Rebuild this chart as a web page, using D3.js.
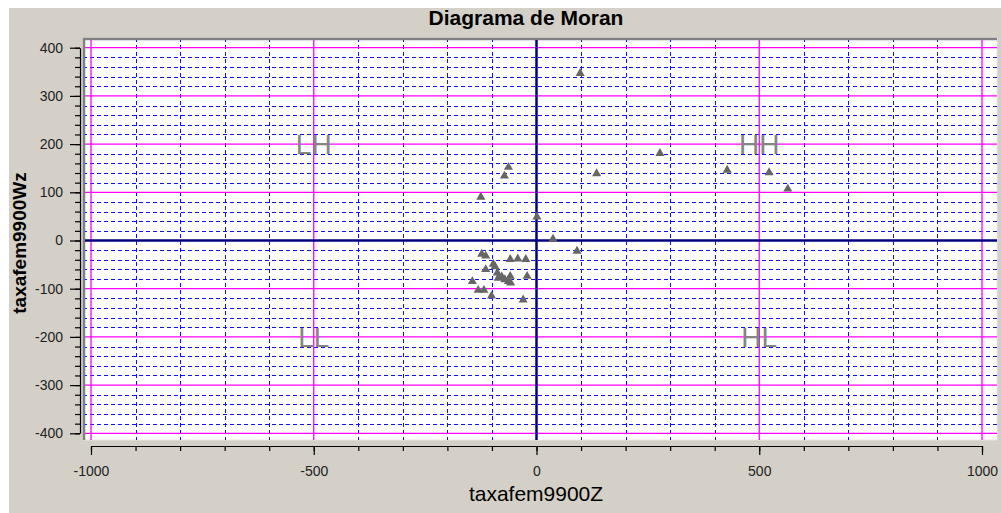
<!DOCTYPE html>
<html>
<head>
<meta charset="utf-8">
<script src="https://cdn.jsdelivr.net/npm/d3@7"></script>
<style>
html,body{margin:0;padding:0;background:#fff;}
svg{display:block;}
</style>
</head>
<body>
<svg id="chart" width="1001" height="513"></svg>
<script>
// ---- data ----
const xValues = [98, 135, -63, -72, 277, 428, 522, 564, -125, 1, 37, 91,
  -123, -114, -59, -42, -24, -97, -93, -114, -88, -78, -86, -71, -59, -63, -58,
  -144, -21, -131, -118, -101, -30];
const yValues = [347, 139, 152, 134, 181, 146, 141, 107, 90, 49, 3, -22,
  -28, -32, -39, -38, -39, -49, -54, -60, -67, -75, -78, -81, -74, -85, -88,
  -85, -74, -103, -103, -115, -123];
const xMajorTicks = [-1000, -500, 0, 500, 1000];
const yMajorTicks = [-400, -300, -200, -100, 0, 100, 200, 300, 400];
const quadrantLabels = ["LH", "HH", "LL", "HL"];
const quadrantX = [-500, 500, -500, 500];
const quadrantY = [200, 200, -200, -200];
const titleText = "Diagrama de Moran";
const xLabel = "taxafem9900Z";
const yLabel = "taxafem9900Wz";

const svg = d3.select("#chart");
const W = 1001, H = 513;
const font = "'Liberation Sans', Arial, sans-serif";

// background
svg.append("rect").attr("x", 0).attr("y", 0).attr("width", W).attr("height", H).attr("fill", "#fff");
svg.append("rect").attr("x", 9).attr("y", 8).attr("width", W - 9).attr("height", H - 8).attr("fill", "#d4d0c8");

const x = d3.scaleLinear().domain([-1000, 1000]).range([91, 982]);
const y = d3.scaleLinear().domain([-400, 400]).range([433.3, 47.7]);

const plot = {l: 83, t: 38, r: 997, b: 440};

// plot frame
svg.append("rect").attr("x", plot.l).attr("y", plot.t).attr("width", plot.r - plot.l).attr("height", plot.b - plot.t)
  .attr("fill", "#fff").attr("stroke", "#e8e6e0").attr("stroke-width", 1);
svg.append("path").attr("d", `M${plot.l + 1},${plot.b}V${plot.t + 1}H${plot.r}`)
  .attr("fill", "none").attr("stroke", "#808080").attr("stroke-width", 2.5);

svg.append("clipPath").attr("id", "clip").append("rect")
  .attr("x", plot.l + 2).attr("y", plot.t + 2).attr("width", plot.r - plot.l - 2).attr("height", plot.b - plot.t - 2);
const g = svg.append("g").attr("clip-path", "url(#clip)");

const xMinor = d3.range(-1000, 1001, 100).filter(v => v % 500 !== 0);
const yMinor = d3.range(-400, 401, 20).filter(v => v % 100 !== 0);
const xMag = xMajorTicks.filter(v => v !== 0);
const yMag = yMajorTicks.filter(v => v !== 0);

const blue = "#1010ff";
// dashed blue grid
g.append("g").selectAll("line").data(yMinor).join("line")
  .attr("x1", plot.l).attr("x2", plot.r).attr("y1", d => Math.round(y(d)) + 0.5).attr("y2", d => Math.round(y(d)) + 0.5)
  .attr("stroke", blue).attr("stroke-width", 1).attr("stroke-dasharray", "4,3").attr("shape-rendering", "crispEdges");
g.append("g").selectAll("line").data(xMinor).join("line")
  .attr("y1", plot.t).attr("y2", plot.b).attr("x1", d => Math.round(x(d)) + 0.5).attr("x2", d => Math.round(x(d)) + 0.5)
  .attr("stroke", blue).attr("stroke-width", 1).attr("stroke-dasharray", "4,3").attr("shape-rendering", "crispEdges");
// magenta grid
g.append("g").selectAll("line").data(yMag).join("line")
  .attr("x1", plot.l).attr("x2", plot.r).attr("y1", d => y(d)).attr("y2", d => y(d))
  .attr("stroke", "#ff00ff").attr("stroke-width", 1.3);
g.append("g").selectAll("line").data(xMag).join("line")
  .attr("y1", plot.t).attr("y2", plot.b).attr("x1", d => x(d)).attr("x2", d => x(d))
  .attr("stroke", "#ff00ff").attr("stroke-width", 1.3);
// zero axes
g.append("line").attr("x1", plot.l).attr("x2", plot.r).attr("y1", y(0)).attr("y2", y(0))
  .attr("stroke", "#000080").attr("stroke-width", 2.5);
g.append("line").attr("y1", plot.t).attr("y2", plot.b).attr("x1", x(0)).attr("x2", x(0))
  .attr("stroke", "#000080").attr("stroke-width", 2.5);

// quadrant labels
g.append("g").selectAll("text").data(quadrantLabels).join("text")
  .attr("x", (d, i) => x(quadrantX[i])).attr("y", (d, i) => y(quadrantY[i]) + 10)
  .attr("text-anchor", "middle").attr("font-family", font).attr("font-size", 28)
  .attr("fill", "#858585").text(d => d);

// points
const pts = xValues.map((v, i) => ({x: v, y: yValues[i]}));
g.append("g").selectAll("path").data(pts).join("path")
  .attr("d", d3.symbol().type(d3.symbolTriangle).size(36))
  .attr("transform", d => `translate(${x(d.x)},${y(d.y)})`)
  .attr("fill", "#666666");

// axes
const fmt = d => String(d);
function styleAxis(sel) {
  sel.selectAll("path").attr("stroke", "#000").attr("stroke-width", 1.2);
  sel.selectAll("line").attr("stroke", "#000").attr("stroke-width", 1.2);
  sel.selectAll("text").attr("font-family", font).attr("font-size", 14).attr("fill", "#222");
}
const yMinorTicks = d3.range(-400, 401, 20);
const ya1 = svg.append("g").attr("transform", "translate(80,0)")
  .call(d3.axisLeft(y).tickValues(yMinorTicks).tickSize(5).tickSizeOuter(0).tickFormat(""));
styleAxis(ya1);
const ya2 = svg.append("g").attr("transform", "translate(80,0)")
  .call(d3.axisLeft(y).tickValues(yMajorTicks).tickSize(10).tickSizeOuter(0).tickPadding(7).tickFormat(fmt));
styleAxis(ya2);
ya2.select("path").remove();

const xMinorTicks = d3.range(-1000, 1001, 100);
const xa1 = svg.append("g").attr("transform", "translate(0,446)")
  .call(d3.axisBottom(x).tickValues(xMinorTicks).tickSize(5).tickSizeOuter(0).tickFormat(""));
styleAxis(xa1);
const xa2 = svg.append("g").attr("transform", "translate(0,446)")
  .call(d3.axisBottom(x).tickValues(xMajorTicks).tickSize(9).tickSizeOuter(0).tickPadding(11).tickFormat(fmt));
styleAxis(xa2);
xa2.select("path").remove();

// title and labels
svg.append("text").attr("x", 526).attr("y", 25).attr("text-anchor", "middle")
  .attr("font-family", font).attr("font-weight", "bold").attr("font-size", 21).attr("fill", "#000").text(titleText);
svg.append("text").attr("x", 536).attr("y", 501).attr("text-anchor", "middle")
  .attr("font-family", font).attr("font-size", 21).attr("fill", "#000").text(xLabel);
svg.append("text").attr("transform", "translate(26,243) rotate(-90)").attr("text-anchor", "middle")
  .attr("font-family", font).attr("font-weight", "bold").attr("font-size", 19).attr("fill", "#000").text(yLabel);
</script>
</body>
</html>
